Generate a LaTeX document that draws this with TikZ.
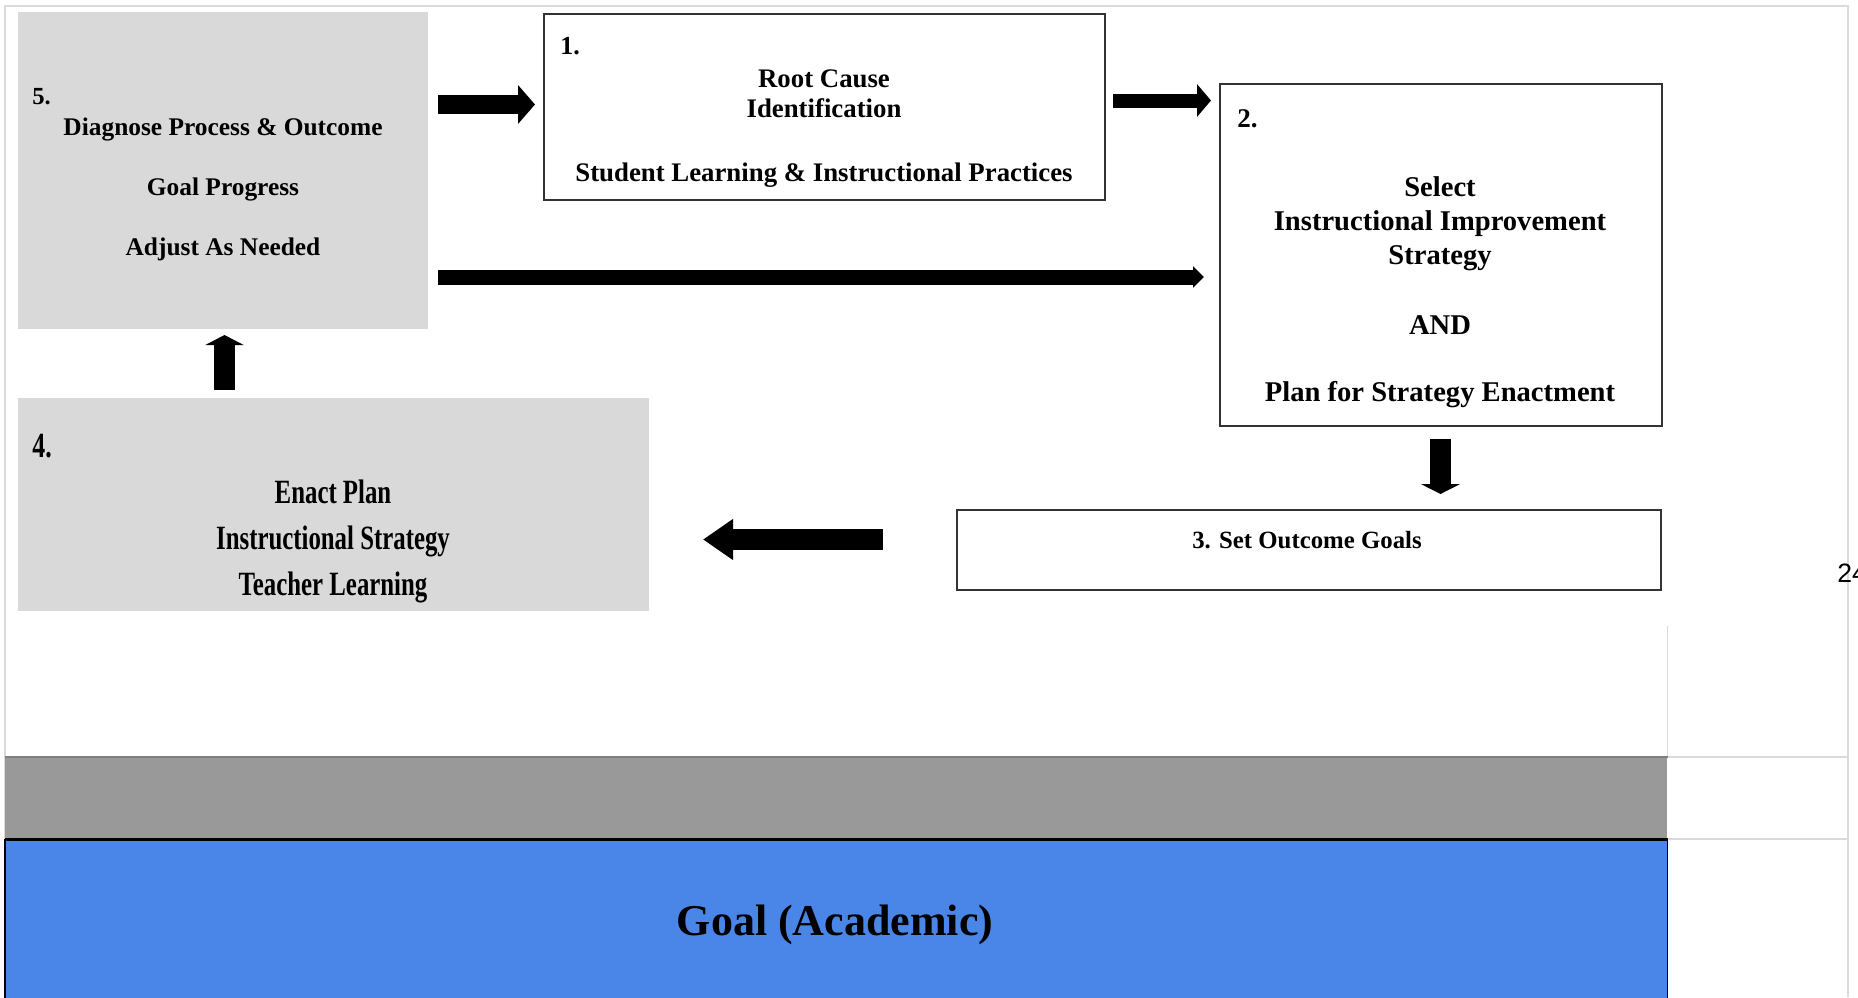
\documentclass[tikz,border=0pt]{standalone}
\usepackage{fontspec}
\setmainfont{Liberation Serif}
\newfontfamily\pagenumfont{Liberation Sans}
\usetikzlibrary{arrows.meta}
\definecolor{boxgray}{HTML}{D9D9D9}
\definecolor{bandgray}{HTML}{999999}
\definecolor{bandline}{HTML}{7F7F7F}
\definecolor{goalblue}{HTML}{4A86E8}
\definecolor{framegray}{HTML}{DADADA}
\newcommand{\fs}[1]{\bfseries\fontsize{#1}{#1}\selectfont}
\newcommand{\cond}[1]{\scalebox{0.73}[1]{#1}}
\begin{document}
\begin{tikzpicture}[x=0.5pt,y=-0.5pt,
  graybox/.style={fill=boxgray, draw=none, anchor=north west, inner sep=0},
  whitebox/.style={fill=white, draw=black!80, line width=1pt, anchor=north west, inner sep=0},
  txt/.style={anchor=base, inner sep=0},
  num/.style={anchor=base west, inner sep=0},
  blk/.style={draw=black, line width=#1},
]
\useasboundingbox (0,0) rectangle (1858,997);
\fill[white] (0,0) rectangle (1858,997);

% page frame
\draw[framegray, line width=0.6pt] (5,997) -- (5,6) -- (1848,6) -- (1848,997);
\draw[framegray, line width=0.5pt] (1667,626) -- (1667,757);
\draw[framegray, line width=1pt] (1667,757) -- (1848,757);
\draw[framegray, line width=1pt] (1667,839) -- (1848,839);

% bottom bands
\node[fill=bandgray, anchor=north west, inner sep=0, minimum width=831pt, minimum height=41pt] (band) at (5,757) {};
\draw[bandline, line width=1.2pt] (band.north west) -- (band.north east);
\node[fill=goalblue, anchor=north west, inner sep=0, minimum width=831pt, minimum height=80pt] (goal) at (5,839) {};
\draw[black, line width=0.6pt] (goal.south west) -- (goal.north west) (goal.north east) -- (goal.south east);
\draw[black, line width=1.5pt] (goal.north west) -- (goal.north east);
\node[txt, font=\fs{22}] (goaltxt) at (835,935) {Goal (Academic)};

% page number (cut off by the page edge, as in the source)
\node[num, font=\pagenumfont\fontsize{13.3}{14}\selectfont] (pagenum) at (1837,582) {24};

% boxes
\node[graybox, minimum width=205pt, minimum height=158.5pt] (n5) at (18,12) {};
\node[whitebox, minimum width=280.5pt, minimum height=93.25pt] (n1) at (543,12.5) {};
\node[whitebox, minimum width=221pt, minimum height=171pt] (n2) at (1219,83) {};
\node[whitebox, minimum width=352pt, minimum height=39.75pt] (n3) at (956,509) {};
\node[graybox, minimum width=315.25pt, minimum height=106.25pt] (n4) at (18,398) {};

% box 5 text
\node[num, font=\fs{12.3}] (t5n) at (32,104) {5.};
\node[txt, font=\fs{12.7}] (t5a) at (223,135) {Diagnose Process \& Outcome};
\node[txt, font=\fs{12.7}] (t5b) at (223,195) {Goal Progress};
\node[txt, font=\fs{12.7}] (t5c) at (223,255) {Adjust As Needed};

% box 1 text
\node[num, font=\fs{13}] (t1n) at (560,54) {1.};
\node[txt, font=\fs{13.4}] (t1a) at (824,87.3) {Root Cause};
\node[txt, font=\fs{13.4}] (t1b) at (824,117.3) {Identification};
\node[txt, font=\fs{13.4}] (t1c) at (824,181.7) {Student Learning \& Instructional Practices};

% box 2 text
\node[num, font=\fs{13.5}] (t2n) at (1237,127.7) {2.};
\node[txt, font=\fs{14.3}] (t2a) at (1440,196.7) {Select};
\node[txt, font=\fs{14.3}] (t2b) at (1440,230.7) {Instructional Improvement};
\node[txt, font=\fs{14.3}] (t2c) at (1440,264) {Strategy};
\node[txt, font=\fs{14.3}] (t2d) at (1440,334) {AND};
\node[txt, font=\fs{14.3}] (t2e) at (1440,401.7) {Plan for Strategy Enactment};

% box 3 text
\node[txt, font=\fs{12.4}] (t3) at (1307,548) {3. Set Outcome Goals};

% box 4 text
\node[num, font=\fs{17.7}] (t4n) at (32,457) {\cond{4.}};
\node[txt, font=\fs{17}] (t4a) at (333,503.3) {\cond{Enact Plan}};
\node[txt, font=\fs{17}] (t4b) at (333,549.3) {\cond{Instructional Strategy}};
\node[txt, font=\fs{17}] (t4c) at (333,595) {\cond{Teacher Learning}};

% arrow end points
\coordinate (a51s) at (438,104.5);
\coordinate (a51e) at (535,104.5);
\coordinate (a12s) at (1113,100.5);
\coordinate (a12e) at (1211,100.5);
\coordinate (a52s) at (438,277);
\coordinate (a52e) at (1204,277);
\coordinate (a45s) at (224.5,390);
\coordinate (a45e) at (224.5,335);
\coordinate (a23s) at (1440.5,439);
\coordinate (a23e) at (1440.5,494);
\coordinate (a34s) at (883,539.5);
\coordinate (a34e) at (703,539.5);

% block arrows
\draw[blk=9.5pt, -{Triangle[length=8.5pt, width=19pt]}] (a51s) -- (a51e);
\draw[blk=7pt, -{Triangle[length=7pt, width=16pt]}] (a12s) -- (a12e);
\draw[blk=7.5pt, -{Triangle[length=5.5pt, width=10.5pt]}] (a52s) -- (a52e);
\draw[blk=10.5pt, -{Triangle[length=5pt, width=19pt]}] (a45s) -- (a45e);
\draw[blk=10.5pt, -{Triangle[length=5pt, width=19.5pt]}] (a23s) -- (a23e);
\draw[blk=10.5pt, -{Triangle[length=15pt, width=19.5pt]}] (a34s) -- (a34e);
\end{tikzpicture}
\end{document}
